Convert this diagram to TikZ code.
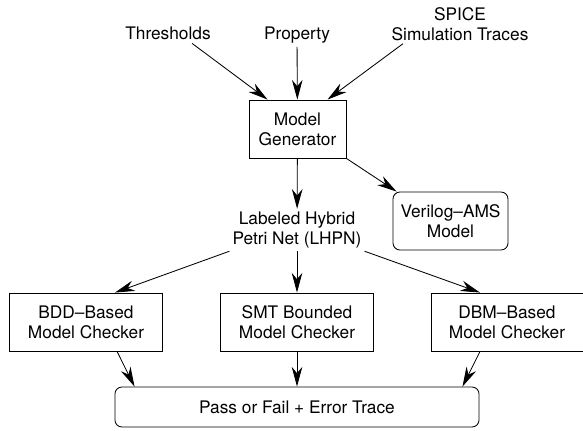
\documentclass[tikz,border=0pt]{standalone}
\usepackage{fontspec}
\setmainfont{TeX Gyre Heros}
\usetikzlibrary{arrows.meta,calc}

\begin{document}
\begin{tikzpicture}[x=0.025cm, y=-0.025cm,
	font=\fontsize{12.3}{14.2}\selectfont,
	box/.style={draw, minimum height=1.45cm, align=center, inner sep=0, line width=0.6pt},
	rbox/.style={box, rounded corners=5pt},
	lbl/.style={align=center, inner sep=2pt},
	arr/.style={-{Stealth[length=14pt, width=7.5pt, inset=4.5pt]}, line width=0.6pt}]

\useasboundingbox (0, 0) rectangle (583, 431);

% inputs
\node[lbl, anchor=base] (thr) at (168, 40) {Thresholds};
\node[lbl, anchor=base] (prop) at (297, 40) {Property};
\node[lbl] (spice) at (460, 24) {SPICE\\Simulation Traces};

% generator and its outputs
\node[box, minimum width=2.425cm] (gen) at (297.5, 129) {Model\\Generator};
\node[lbl] (lhpn) at (297, 230) {Labeled Hybrid\\Petri Net (LHPN)};
\node[rbox, minimum width=2.875cm] (vams) at (450.5, 221) {Verilog–AMS\\Model};

% checkers
\node[box, minimum width=3.825cm] (bdd) at (86, 322) {BDD–Based\\Model Checker};
\node[box, minimum width=3.825cm] (smt) at (297, 322) {SMT Bounded\\Model Checker};
\node[box, minimum width=3.8cm] (dbm) at (507, 322) {DBM–Based\\Model Checker};

\node[rbox, minimum width=9.1cm, minimum height=1cm] (res) at (297, 407) {Pass or Fail + Error Trace};

\draw[arr] ($(thr.south)+(24, 0)$) -- ($(gen.north)+(-30, 0)$);
\draw[arr] (prop) -- (gen);
\draw[arr] ($(spice.south)+(-57, 0)$) -- ($(gen.north)+(30, 0)$);

\draw[arr] (gen) -- (lhpn);
\draw[arr] (gen.south east) -- ($(vams.north west)+(4, 0)$);

\draw[arr] (lhpn.south west) -- ($(bdd.north)+(29, 0)$);
\draw[arr] (lhpn) -- (smt);
\draw[arr] (lhpn.south east) -- ($(dbm.north)+(-27, 0)$);

\draw[arr] ($(bdd.south)+(31, 0)$) -- ($(res.north west)+(20, 0)$);
\draw[arr] (smt) -- (res);
\draw[arr] ($(dbm.south)+(-27, 0)$) -- ($(res.north east)+(-17, 0)$);

\end{tikzpicture}
\end{document}
